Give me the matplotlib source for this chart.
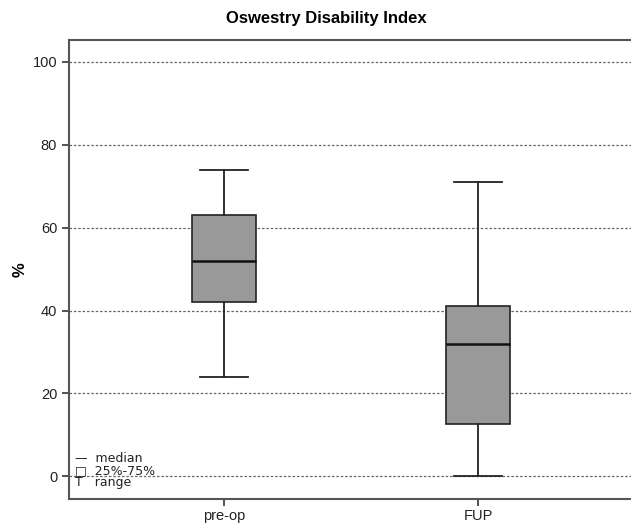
import numpy as np
import matplotlib
matplotlib.use('Agg')
import matplotlib.pyplot as plt

plt.rcParams['font.family'] = ['Liberation Sans', 'DejaVu Sans']

# data
groups = ['pre-op', 'FUP']
whisker_low = [24, 0]
q1 = [42, 12.5]
median = [52, 32]
q3 = [63, 41]
whisker_high = [74, 71]

stats = []
for i, g in enumerate(groups):
    stats.append({'label': g, 'whislo': whisker_low[i], 'q1': q1[i],
                  'med': median[i], 'q3': q3[i], 'whishi': whisker_high[i]})

fig = plt.figure(figsize=(6.31, 5.26), dpi=100)
ax = fig.add_axes([69/631, 1 - 499/526, 1 - 69/631, (499-40)/526])

ax.bxp(stats, positions=[1, 2], widths=0.25, patch_artist=True, showfliers=False,
       boxprops=dict(facecolor='#999999', edgecolor='#222222', linewidth=1.2),
       medianprops=dict(color='#111111', linewidth=1.8),
       whiskerprops=dict(color='#222222', linewidth=1.3),
       capprops=dict(color='#222222', linewidth=1.3), capwidths=0.19, zorder=3)

for yv in range(0, 101, 20):
    ax.axhline(yv, color='#666666', linestyle=(0, (2, 1.5)), linewidth=0.9, zorder=1)

ax.set_xlim(0.392, 2.6)
ax.set_ylim(-5.5, 105.3)
ax.set_yticks(range(0, 101, 20))
ax.set_xticks([1, 2])
ax.set_xticklabels(groups)
ax.tick_params(axis='both', direction='out', length=5, width=1.3, color='#444444',
               labelsize=10.5, labelcolor='#222222')
ax.tick_params(axis='x', pad=2)
for s in ['left', 'top', 'bottom']:
    ax.spines[s].set_color('#555555')
    ax.spines[s].set_linewidth(1.5)
ax.spines['right'].set_visible(False)

ax.set_ylabel('%', fontsize=12, fontweight='bold')
ax.yaxis.set_label_coords(-0.073, 0.5)
fig.text(326/631, 1 - 18/526, 'Oswestry Disability Index', fontsize=12,
         fontweight='bold', ha='center', va='center')

ax.text(0.01, 0.062, '\u2014  median\n\u25a1  25%-75%\nT   range', transform=ax.transAxes,
        fontsize=9, va='center', ha='left', linespacing=0.9, color='#222222', zorder=4,
        family=['DejaVu Sans'])

fig.savefig('out.png', dpi=100)
